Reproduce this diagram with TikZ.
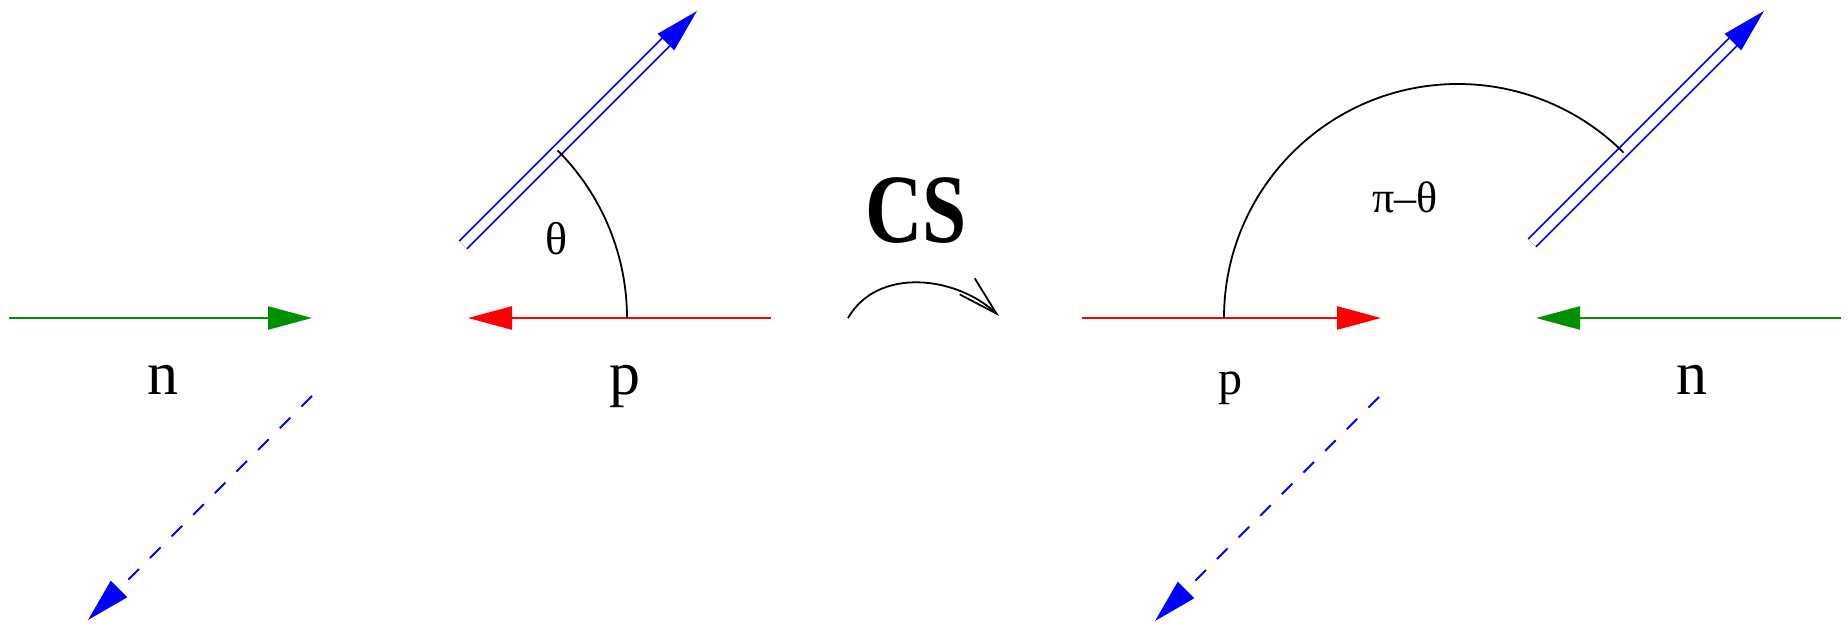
\documentclass[tikz,border=0pt]{standalone}
\usepackage{fontspec}
\setmainfont{Liberation Serif}
\usetikzlibrary{arrows.meta,calc}
\definecolor{ngreen}{RGB}{0,144,0}

\begin{document}
\begin{tikzpicture}[x=0.5pt, y=0.5pt,
        headtip/.style={-{Triangle[length=22pt, width=11.5pt]}},
        nbeam/.style={headtip, draw=ngreen, line width=1.2pt},
        pbeam/.style={headtip, draw=red, line width=1.2pt},
        outgoing/.style={headtip, draw=blue, line width=0.9pt, double=white, double distance=4.5pt},
        missing/.style={headtip, draw=blue, line width=0.9pt, dash pattern=on 7.5pt off 7.8pt},
        anglearc/.style={draw=black, line width=0.9pt},
        lbl/.style={inner sep=0pt, anchor=base}]
        \useasboundingbox (0,0) rectangle (1848,626);
        \coordinate (L) at (390,308);
        \coordinate (R) at (1458,308);
        % left panel
        \coordinate (nLa) at ($(L)+(-381,0)$);
        \coordinate (nLb) at ($(L)+(-78,0)$);
        \coordinate (pLa) at ($(L)+(381,0)$);
        \coordinate (pLb) at ($(L)+(78,0)$);
        \coordinate (eLa) at ($(L)+(73,73)$);
        \coordinate (eLb) at ($(L)+(307,307)$);
        \coordinate (mLa) at ($(L)+(-78,-78)$);
        \coordinate (mLb) at ($(L)+(-302,-302)$);
        \coordinate (thA) at ($(L)+(237,0)$);
        \draw[nbeam] (nLa) -- (nLb);
        \draw[pbeam] (pLa) -- (pLb);
        \draw[outgoing] (eLa) -- (eLb);
        \draw[missing] (mLa) -- (mLb);
        \draw[anglearc] (thA) arc[start angle=0, end angle=45, radius=237];
        \node[lbl, font=\fontsize{31}{31}\selectfont] (nL) at ($(L)+(-227,-77)$) {n};
        \node[lbl, font=\fontsize{31}{31}\selectfont] (pL) at ($(L)+(235,-77)$) {p};
        \node[lbl, font=\fontsize{23}{23}\selectfont] (thL) at ($(L)+(167,63)$) {θ};
        % CS
        \node[lbl, font=\fontsize{49}{49}\selectfont\bfseries] (cs) at (916,383) {\scalebox{0.81}[1]{CS}};
        \coordinate (csA) at (848,308);
        \coordinate (csB) at (999,310);
        \draw[line width=0.9pt, -{Straight Barb[length=20pt, width=11pt]}] (csA) to[out=60, in=137] (csB);
        % right panel
        \coordinate (pRa) at ($(R)+(-376,0)$);
        \coordinate (pRb) at ($(R)+(-77,0)$);
        \coordinate (nRa) at ($(R)+(383,0)$);
        \coordinate (nRb) at ($(R)+(78,0)$);
        \coordinate (eRa) at ($(R)+(74,75)$);
        \coordinate (eRb) at ($(R)+(306,307)$);
        \coordinate (mRa) at ($(R)+(-79,-79)$);
        \coordinate (mRb) at ($(R)+(-303,-303)$);
        \coordinate (thB) at ($(R)+(-234,0)$);
        \draw[pbeam] (pRa) -- (pRb);
        \draw[nbeam] (nRa) -- (nRb);
        \draw[outgoing] (eRa) -- (eRb);
        \draw[missing] (mRa) -- (mRb);
        \draw[anglearc] (thB) arc[start angle=180, end angle=45, radius=234];
        \node[lbl, font=\fontsize{24}{24}\selectfont] (pR) at ($(R)+(-228,-77)$) {p};
        \node[lbl, font=\fontsize{31}{31}\selectfont] (nR) at ($(R)+(234,-77)$) {n};
        \node[lbl, font=\fontsize{22}{22}\selectfont] (thR) at ($(R)+(-53,105)$) {π–θ};
    \end{tikzpicture}
\end{document}
